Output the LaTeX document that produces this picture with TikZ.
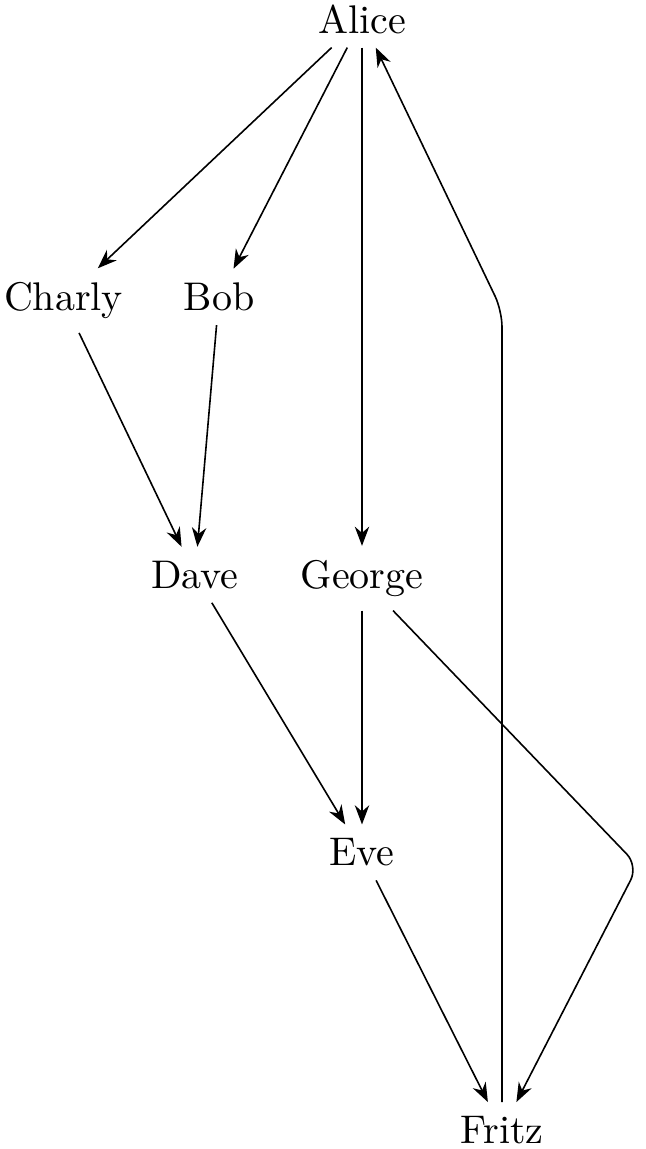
\documentclass[tikz,border=0pt]{standalone}
\usetikzlibrary{arrows.meta}
\begin{document}
\begin{tikzpicture}[x=1pt,y=1pt,>={Stealth},every node/.style={anchor=base}]
\useasboundingbox (0,0) rectangle (161.25,-287.25);
\node (alice) at (90.5,-8.25) {Alice};
\node (charly) at (15.9,-77.65) {Charly};
\node (bob) at (54.75,-77.65) {Bob};
\node (dave) at (48.75,-147.05) {Dave};
\node (george) at (90.5,-147.05) {George};
\node (eve) at (90.5,-216.45) {Eve};
\node (fritz) at (125.5,-285.85) {Fritz};
\coordinate (up) at (125.5,-77.65);
\coordinate (down) at (159.5,-216.45);
\draw [->] (alice) -- (charly);
\draw [->] (alice) -- (bob);
\draw [->] (alice) -- (george);
\draw [->] (charly) -- (dave);
\draw [->] (bob) -- (dave);
\draw [->] (dave) -- (eve);
\draw [->] (george) -- (eve);
\draw [->] (eve) -- (fritz);
\draw [->,rounded corners] (george) -- (down) -- (fritz);
\draw [->,rounded corners] (fritz) -- (up) -- (alice);
\end{tikzpicture}
\end{document}
